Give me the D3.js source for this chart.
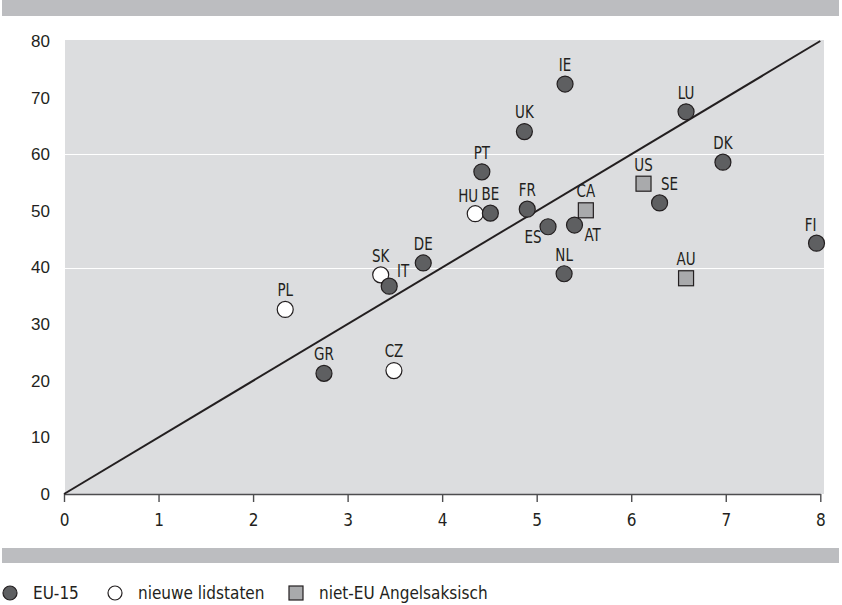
<!DOCTYPE html>
<html>
<head>
<meta charset="utf-8">
<script src="https://cdn.jsdelivr.net/npm/d3@7"></script>
<style>
  html, body { margin: 0; padding: 0; background: #ffffff; }
  svg { display: block; }
  text { font-family: "DejaVu Sans Condensed", "Liberation Sans", sans-serif; fill: #231f20; }
</style>
</head>
<body>
<svg id="chart" width="842" height="605"></svg>
<script>
// Country codes, group and the two measured values
const countries = ["PL","GR","CZ","SK","IT","DE","HU","BE","PT","UK","IE","FR","ES","AT","CA","NL","US","SE","LU","DK","AU","FI"];
const groups    = ["new","eu","new","new","eu","eu","new","eu","eu","eu","eu","eu","eu","eu","anglo","eu","anglo","eu","eu","eu","anglo","eu"];
const xValues   = [2.34,2.75,3.49,3.35,3.44,3.80,4.35,4.51,4.42,4.87,5.30,4.90,5.12,5.40,5.52,5.29,6.13,6.30,6.58,6.97,6.58,7.96];
const yValues   = [32.6,21.3,21.8,38.7,36.7,40.8,49.5,49.6,56.9,64.0,72.4,50.3,47.2,47.5,50.1,38.9,54.8,51.4,67.5,58.6,38.1,44.3];

// Axis ticks and the reference line (y = 10x)
const xTicks = [0,1,2,3,4,5,6,7,8];
const yTicks = [0,10,20,30,40,50,60,70,80];
const gridValues = [40,60];
const refLine = [[0,0],[8,80]];

// Legend entries
const legendGroups = ["eu","new","anglo"];
const legendLabels = ["EU-15","nieuwe lidstaten","niet-EU Angelsaksisch"];

// Label placement relative to the marker centre (label centre offsets, px)
const labelOffset = {
  HU: [-7, -18], ES: [-15, 10], AT: [18, 10], SE: [10, -19],
  IT: [14, -15], FI: [-6, -18]
};
const defaultOffset = [0, -19];

const svg = d3.select("#chart");
const plot = { left: 64, right: 822, top: 40, bottom: 494 };

const x = d3.scaleLinear().domain([0, 8]).range([plot.left, plot.right - 1.7]);
const y = d3.scaleLinear().domain([0, 80]).range([plot.bottom, plot.top + 1]);

const colors = {
  bar: "#bcbdc0", bg: "#dcdddf", eu: "#5e5f61", new: "#ffffff", anglo: "#a9aaac",
  stroke: "#231f20", axis: "#4d4d4f"
};

// Top and bottom grey bands
svg.append("rect").attr("x", 2).attr("y", 0).attr("width", 837).attr("height", 16).attr("fill", colors.bar);
svg.append("rect").attr("x", 2).attr("y", 548).attr("width", 837).attr("height", 15).attr("fill", colors.bar);

// Plot background
svg.append("rect")
  .attr("x", plot.left + 1).attr("y", plot.top)
  .attr("width", plot.right + 1 - plot.left).attr("height", plot.bottom - plot.top)
  .attr("fill", colors.bg);

// White gridlines
svg.append("g").selectAll("line").data(gridValues).join("line")
  .attr("x1", plot.left + 1).attr("x2", plot.right + 2)
  .attr("y1", d => Math.round(y(d)) + 0.5).attr("y2", d => Math.round(y(d)) + 0.5)
  .attr("stroke", "#ffffff").attr("stroke-width", 1);

// Y axis labels (no line, no ticks)
const yAxis = d3.axisLeft(y).tickValues(yTicks).tickSize(0).tickPadding(14);
const gy = svg.append("g").attr("transform", `translate(${plot.left},0)`).call(yAxis);
gy.select(".domain").remove();
gy.selectAll("text").style("font-family", "'Liberation Sans', sans-serif").attr("font-size", 17);

// X axis
const xAxis = d3.axisBottom(x).tickValues(xTicks).tickSize(8).tickPadding(12).tickSizeOuter(0);
const gx = svg.append("g").attr("transform", `translate(0,${plot.bottom})`).call(xAxis);
gx.select(".domain").attr("stroke", colors.axis).attr("stroke-width", 1.6);
gx.selectAll(".tick line").attr("stroke", colors.axis).attr("stroke-width", 1.4);
gx.selectAll("text").attr("font-size", 17);

// Reference line
svg.append("line")
  .attr("x1", x(refLine[0][0])).attr("y1", y(refLine[0][1]))
  .attr("x2", x(refLine[1][0])).attr("y2", y(refLine[1][1]))
  .attr("stroke", colors.stroke).attr("stroke-width", 2);

// Markers
const data = countries.map((c, i) => ({ code: c, group: groups[i], x: xValues[i], y: yValues[i] }));
const r = 8, sq = 15;
const marks = svg.append("g");
data.forEach(d => {
  if (d.group === "anglo") {
    marks.append("rect")
      .attr("x", x(d.x) - sq / 2).attr("y", y(d.y) - sq / 2)
      .attr("width", sq).attr("height", sq)
      .attr("fill", colors.anglo).attr("stroke", colors.stroke).attr("stroke-width", 1.2);
  } else {
    marks.append("circle")
      .attr("cx", x(d.x)).attr("cy", y(d.y)).attr("r", r)
      .attr("fill", colors[d.group]).attr("stroke", colors.stroke).attr("stroke-width", 1.2);
  }
});

// Country labels, narrowed horizontally
svg.append("g").selectAll("text").data(data).join("text")
  .attr("transform", d => {
    const o = labelOffset[d.code] || defaultOffset;
    return `translate(${x(d.x) + o[0]},${y(d.y) + o[1]}) scale(0.88,1)`;
  })
  .attr("text-anchor", "middle").attr("dominant-baseline", "central")
  .attr("font-size", 17)
  .text(d => d.code);

// Legend
const legendX = [10, 115, 296];
const legendY = 593;
const lg = svg.append("g");
legendGroups.forEach((g, i) => {
  if (g === "anglo") {
    lg.append("rect").attr("x", legendX[i] - 7).attr("y", legendY - 7).attr("width", 14).attr("height", 14)
      .attr("fill", colors.anglo).attr("stroke", colors.stroke).attr("stroke-width", 1.2);
  } else {
    lg.append("circle").attr("cx", legendX[i]).attr("cy", legendY).attr("r", 7)
      .attr("fill", colors[g]).attr("stroke", colors.stroke).attr("stroke-width", 1.2);
  }
  lg.append("text").attr("x", legendX[i] + 23).attr("y", legendY)
    .attr("dominant-baseline", "central").attr("font-size", 17)
    .text(legendLabels[i]);
});
</script>
</body>
</html>
